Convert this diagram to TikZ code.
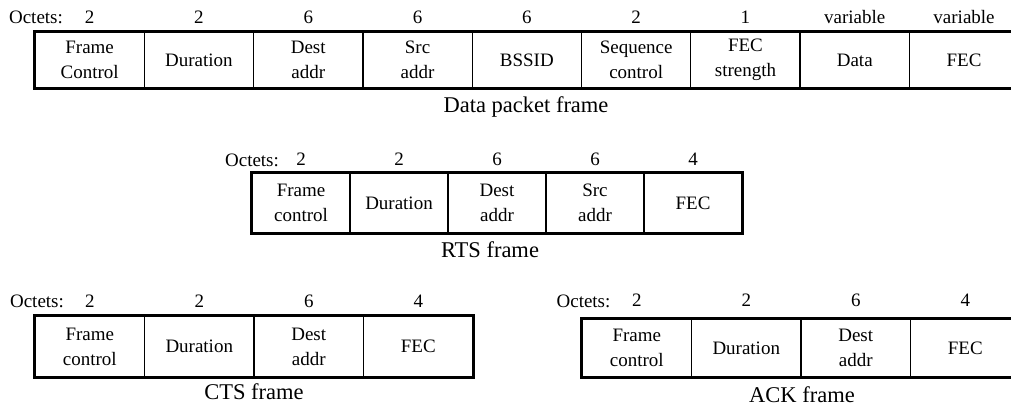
\documentclass[tikz,border=0pt]{standalone}
\usepackage{fontspec}
\setmainfont{Liberation Serif}
\usetikzlibrary{positioning}

\tikzset{
  cell/.style={draw, line width=0.9pt, inner sep=0pt, align=center,
    font=\fontsize{13.5}{17.7}\selectfont},
  octet/.style={inner sep=0pt, text height=9pt, text depth=0pt,
    font=\fontsize{13.5}{16}\selectfont},
  every label/.style={octet},
  label distance=0.2cm,
  caption/.style={inner sep=0pt, font=\fontsize{16}{19}\selectfont},
  frameline/.style={line width=2.6pt}
}

\begin{document}
\begin{tikzpicture}[x=0.025cm, y=-0.025cm]
    \useasboundingbox (0,0) rectangle (1011,407);

    % data packet frame
    \begin{scope}[cell/.append style={minimum width=2.733cm, minimum height=1.4cm}]
        \node[cell, label=above:{2}] (d1) at (89.65,60) {Frame\\Control};
        \node[cell, label=above:{2}] (d2) at (198.95,60) {Duration};
        \node[cell, label=above:{6}] (d3) at (308.25,60) {Dest\\addr};
        \node[cell, label=above:{6}] (d4) at (417.55,60) {Src\\addr};
        \node[cell, label=above:{6}] (d5) at (526.85,60) {BSSID};
        \node[cell, label=above:{2}] (d6) at (636.15,60) {Sequence\\control};
        \node[cell, label=above:{1}] (d7) at (745.45,60) {FEC\\strength};
        \node[cell, label=above:{variable}] (d8) at (854.75,60) {Data};
        \node[cell, label=above:{variable}] (d9) at (964.05,60) {FEC};
    \end{scope}
    \draw[frameline] (d1.north west) rectangle (d9.south east);
    \node[octet, anchor=south] (doct) at (36,24) {Octets:};
    \node[caption] (dcap) at (526,107) {Data packet frame};

    % RTS frame
    \begin{scope}[label distance=0.16cm,
                  cell/.append style={minimum width=2.45cm, minimum height=1.5cm}]
        \node[cell, label=above:{2}] (r1) at (301,203) {Frame\\control};
        \node[cell, label=above:{2}] (r2) at (399,203) {Duration};
        \node[cell, label=above:{6}] (r3) at (497,203) {Dest\\addr};
        \node[cell, label=above:{6}] (r4) at (595,203) {Src\\addr};
        \node[cell, label=above:{4}] (r5) at (693,203) {FEC};
    \end{scope}
    \draw[frameline] (r1.north west) rectangle (r5.south east);
    \node[octet, anchor=south] (roct) at (252,167) {Octets:};
    \node[caption] (rcap) at (490,250) {RTS frame};

    % CTS frame
    \begin{scope}[cell/.append style={minimum width=2.7375cm, minimum height=1.525cm}]
        \node[cell, label=above:{2}] (c1) at (89.75,346.5) {Frame\\control};
        \node[cell, label=above:{2}] (c2) at (199.25,346.5) {Duration};
        \node[cell, label=above:{6}] (c3) at (308.75,346.5) {Dest\\addr};
        \node[cell, label=above:{4}] (c4) at (418.25,346.5) {FEC};
    \end{scope}
    \draw[frameline] (c1.north west) rectangle (c4.south east);
    \node[octet, anchor=south] (coct) at (37,308) {Octets:};
    \node[caption] (ccap) at (254,392) {CTS frame};

    % ACK frame
    \begin{scope}[label distance=0.28cm,
                  cell/.append style={minimum width=2.7375cm, minimum height=1.45cm}]
        \node[cell, label=above:{2}] (a1) at (636.75,348) {Frame\\control};
        \node[cell, label=above:{2}] (a2) at (746.25,348) {Duration};
        \node[cell, label=above:{6}] (a3) at (855.75,348) {Dest\\addr};
        \node[cell, label=above:{4}] (a4) at (965.25,348) {FEC};
    \end{scope}
    \draw[frameline] (a1.north west) rectangle (a4.south east);
    \node[octet, anchor=south] (aoct) at (583.5,308) {Octets:};
    \node[caption] (acap) at (802,395) {ACK frame};
\end{tikzpicture}
\end{document}
